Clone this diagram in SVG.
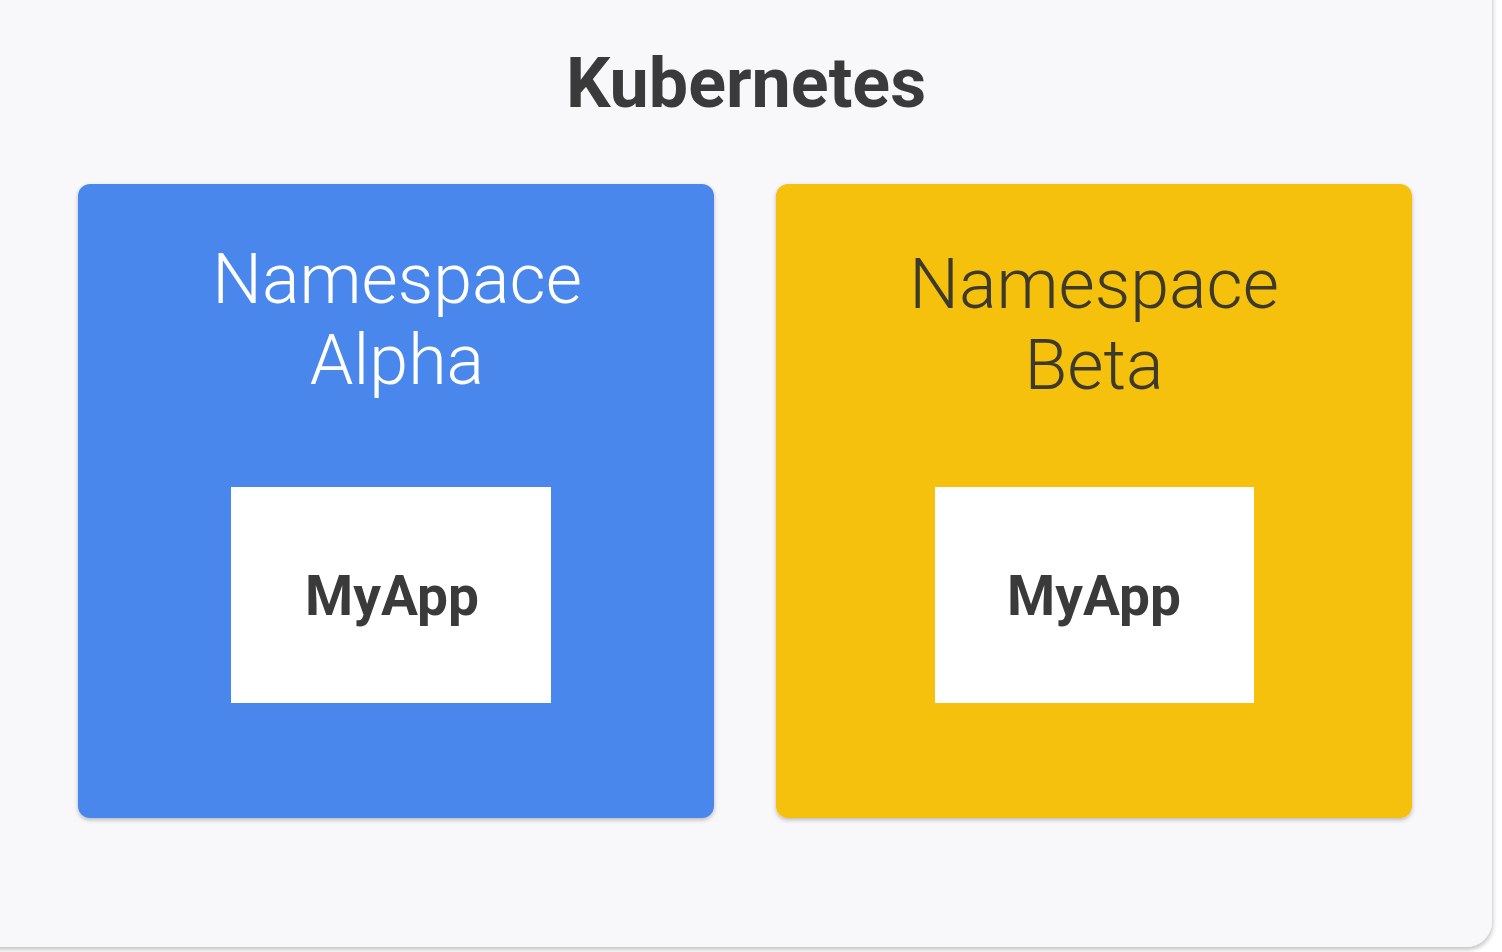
<svg xmlns="http://www.w3.org/2000/svg" width="1502" height="952" viewBox="0 0 1502 952">
<style>
.title{font-family:Roboto,"Liberation Sans",sans-serif;font-weight:700;font-size:70px;fill:#3a3a3a}
.ns{font-family:Roboto,"Liberation Sans",sans-serif;font-weight:300;font-size:70px}
.app{font-family:Roboto,"Liberation Sans",sans-serif;font-weight:700;font-size:55px;fill:#3a3a3a}
</style>
<defs>
<filter id="sh" x="-5%" y="-5%" width="110%" height="112%">
<feDropShadow dx="0" dy="2" stdDeviation="2" flood-color="#000" flood-opacity="0.25"/>
</filter>
<filter id="sh2" x="-5%" y="-5%" width="110%" height="112%">
<feDropShadow dx="1" dy="3" stdDeviation="2" flood-color="#000" flood-opacity="0.22"/>
</filter>
</defs>
<rect x="0" y="0" width="1502" height="952" fill="#ffffff"/>
<g id="cluster">
<rect x="-30" y="-30" width="1522" height="977" rx="26" fill="#f8f8fa" filter="url(#sh2)"/>
<text class="title" x="746" y="107" text-anchor="middle">Kubernetes</text>
</g>
<g id="alpha">
<rect x="78" y="184" width="636" height="634" rx="12" fill="#4a87ed" filter="url(#sh)"/>
<text class="ns" x="397" y="303" text-anchor="middle" fill="#ffffff">Namespace</text>
<text class="ns" x="397" y="384" text-anchor="middle" fill="#ffffff">Alpha</text>
</g>
<g id="beta">
<rect x="776" y="184" width="636" height="634" rx="12" fill="#f5c10f" filter="url(#sh)"/>
<text class="ns" x="1094" y="308" text-anchor="middle" fill="#3d3a2c">Namespace</text>
<text class="ns" x="1094" y="389" text-anchor="middle" fill="#3d3a2c">Beta</text>
</g>
<g id="myapp-alpha">
<rect x="231" y="487" width="320" height="216" fill="#ffffff"/>
<text class="app" x="392" y="615" text-anchor="middle">MyApp</text>
</g>
<g id="myapp-beta">
<rect x="935" y="487" width="319" height="216" fill="#ffffff"/>
<text class="app" x="1094" y="615" text-anchor="middle">MyApp</text>
</g>
<g id="connectors"></g>
</svg>
